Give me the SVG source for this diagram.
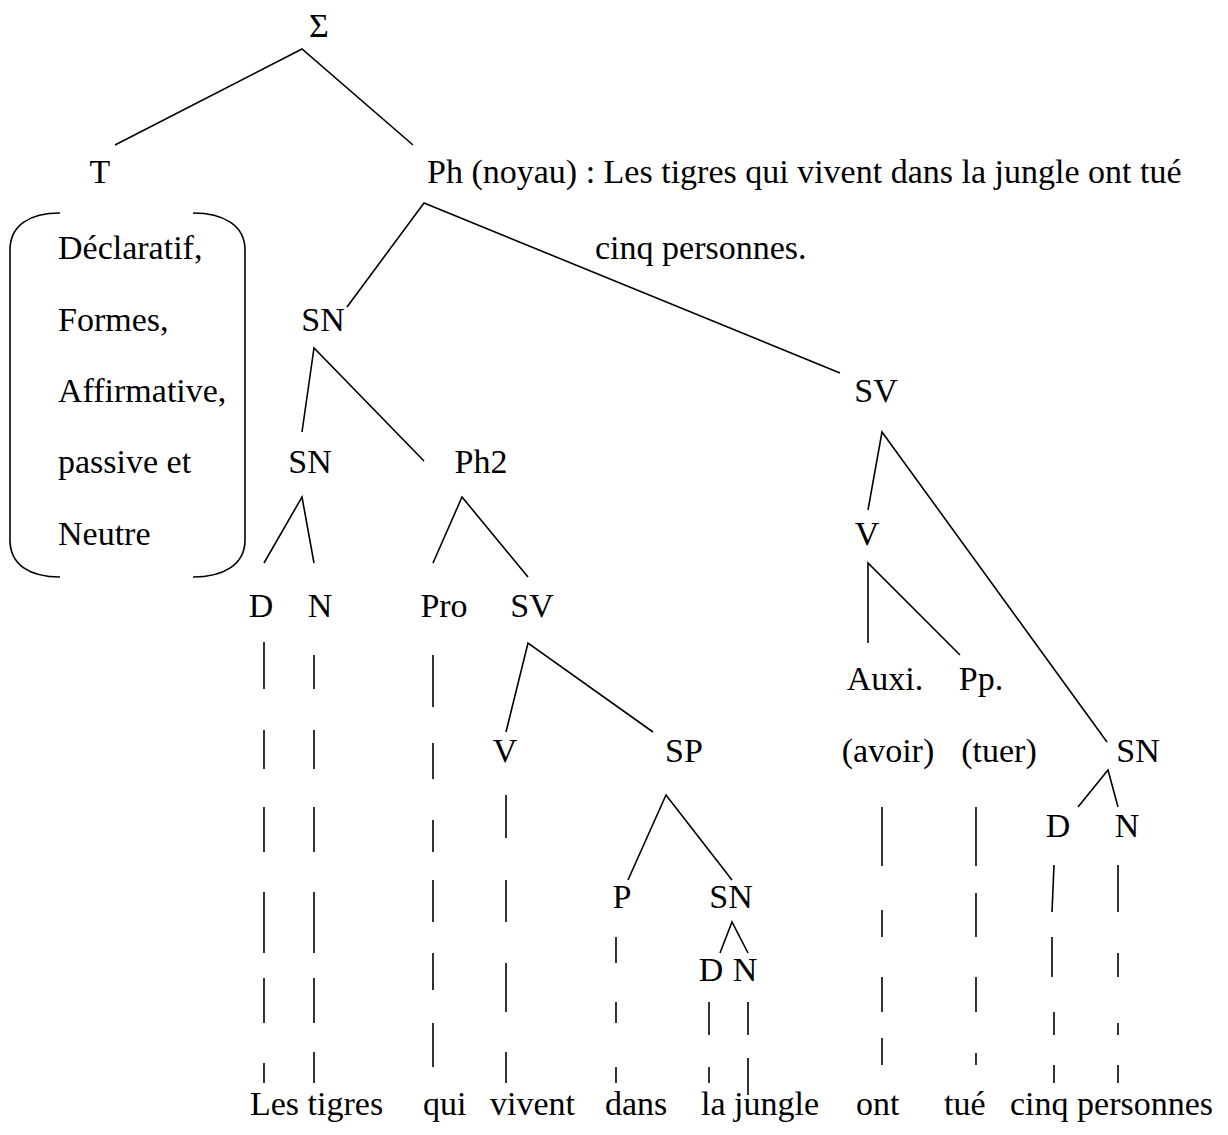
<svg xmlns="http://www.w3.org/2000/svg" width="1228" height="1135" viewBox="0 0 1228 1135">
  <style>
    text { font-family: "Liberation Serif", "Times New Roman", serif; font-size: 34px; fill: #000; }
    .c { text-anchor: middle; }
    .edge { stroke: #000; stroke-width: 1.6; fill: none; }
    .dash { stroke: #000; stroke-width: 1.6; fill: none; }
    .brace { stroke: #000; stroke-width: 1.6; fill: none; }
  </style>
  <rect width="1228" height="1135" fill="#fff"/>

  <!-- tree branches -->
  <g id="connectors">
    <path class="edge" d="M115 145 L302 49 L413 145"/>
    <path class="edge" d="M347 307 L424 203 L840 373"/>
    <path class="edge" d="M302 432 L314 348 L424 461"/>
    <path class="edge" d="M264 563 L302 497 L314 563"/>
    <path class="edge" d="M433 563 L462 497 L528 577"/>
    <path class="edge" d="M506 732 L528 643 L653 732"/>
    <path class="edge" d="M628 880 L666 795 L732 880"/>
    <path class="edge" d="M720 953 L732 922 L748 953"/>
    <path class="edge" d="M868 510 L882 432 L1107 742"/>
    <path class="edge" d="M868 643 L868 563 L960 655"/>
    <path class="edge" d="M1078 807 L1108 770 L1118 807"/>

    <!-- broken lines down to the words -->
    <path class="dash" d="M264 642V689 M264 730V769 M264 807V852 M264 892V953 M264 978V1023 M264 1063V1083"/>
    <path class="dash" d="M314 655V689 M314 730V769 M314 807V852 M314 892V953 M314 978V1023 M314 1052V1083"/>
    <path class="dash" d="M433 655V707 M433 743V779 M433 820V852 M433 880V922 M433 953V990 M433 1023V1067"/>
    <path class="dash" d="M506 795V838 M506 880V922 M506 963V1012 M506 1052V1083"/>
    <path class="dash" d="M616 937V963 M616 1002V1023 M616 1067V1083"/>
    <path class="dash" d="M709 1002V1035 M709 1067V1083"/>
    <path class="dash" d="M748 1002V1035 M748 1058V1095"/>
    <path class="dash" d="M882 807V866 M882 910V937 M882 977V1012 M882 1038V1065"/>
    <path class="dash" d="M976 807V866 M976 893V937 M976 977V1012 M976 1053V1065"/>
    <path class="dash" d="M1054 865L1052 912 M1052 937V977 M1054 1012V1035 M1054 1065V1083"/>
    <path class="dash" d="M1118 865V912 M1118 953V977 M1118 1023V1035 M1118 1065V1083"/>
  </g>

  <g id="sigma"><text class="c" x="319" y="37">Σ</text></g>
  <g id="t"><text class="c" x="100" y="183">T</text></g>
  <g id="ph"><text x="427" y="183">Ph (noyau) : Les tigres qui vivent dans la jungle ont tué</text>
    <text x="595" y="259">cinq personnes.</text></g>

  <g id="t-features">
    <path class="brace" d="M60 213 C30 213 10 225 10 250 L10 540 C10 565 30 577 60 577"/>
    <path class="brace" d="M193 213 C223 213 245 225 245 250 L245 540 C245 565 223 577 193 577"/>
    <text x="58" y="259">Déclaratif,</text>
    <text x="58" y="331">Formes,</text>
    <text x="58" y="402">Affirmative,</text>
    <text x="58" y="473">passive et</text>
    <text x="58" y="545">Neutre</text>
  </g>

  <g id="sn"><text class="c" x="323" y="331">SN</text></g>
  <g id="sn-head"><text class="c" x="310" y="473">SN</text></g>
  <g id="ph2"><text class="c" x="481" y="473">Ph2</text></g>
  <g id="d1"><text class="c" x="261" y="617">D</text></g>
  <g id="n1"><text class="c" x="320" y="617">N</text></g>
  <g id="pro"><text class="c" x="444" y="617">Pro</text></g>
  <g id="sv-rel"><text class="c" x="532" y="617">SV</text></g>
  <g id="v-rel"><text class="c" x="505" y="762">V</text></g>
  <g id="sp"><text class="c" x="684" y="762">SP</text></g>
  <g id="p"><text class="c" x="622" y="908">P</text></g>
  <g id="sn-sp"><text class="c" x="731" y="908">SN</text></g>
  <g id="d2"><text class="c" x="711" y="981">D</text></g>
  <g id="n2"><text class="c" x="745" y="981">N</text></g>

  <g id="sv"><text class="c" x="876" y="402">SV</text></g>
  <g id="v"><text class="c" x="867" y="545">V</text></g>
  <g id="auxi"><text class="c" x="885" y="690">Auxi.</text><text class="c" x="888" y="762">(avoir)</text></g>
  <g id="pp"><text class="c" x="981" y="690">Pp.</text><text class="c" x="999" y="762">(tuer)</text></g>
  <g id="sn-obj"><text class="c" x="1138" y="762">SN</text></g>
  <g id="d3"><text class="c" x="1058" y="837">D</text></g>
  <g id="n3"><text class="c" x="1127" y="837">N</text></g>

  <g id="words">
    <text x="250" y="1115">Les tigres</text>
    <text x="423" y="1115">qui</text>
    <text x="490" y="1115">vivent</text>
    <text x="605" y="1115">dans</text>
    <text x="701" y="1115">la jungle</text>
    <text x="856" y="1115">ont</text>
    <text x="944" y="1115">tué</text>
    <text x="1010" y="1115">cinq personnes</text>
  </g>
</svg>
